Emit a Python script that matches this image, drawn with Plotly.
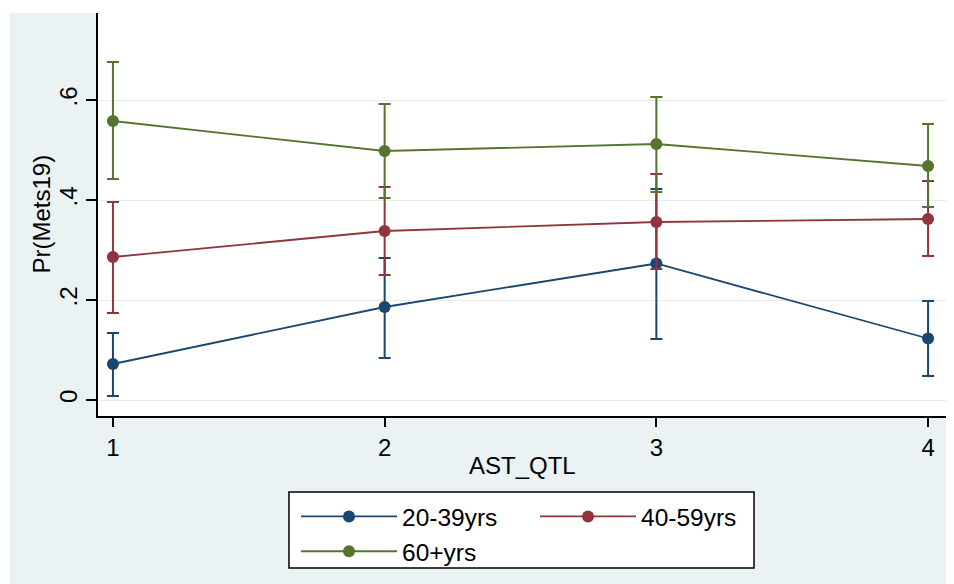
import plotly.graph_objects as go

# ---- data ----
x_vals = [1, 2, 3, 4]
x_ticks = ["1", "2", "3", "4"]
y_tick_vals = [0, 0.2, 0.4, 0.6]
y_tick_text = ["0", ".2", ".4", ".6"]

series_names = ["20-39yrs", "40-59yrs", "60+yrs"]
p20 = [0.072, 0.186, 0.273, 0.123]
lo20 = [0.008, 0.084, 0.122, 0.048]
hi20 = [0.134, 0.284, 0.422, 0.198]

p40 = [0.286, 0.338, 0.356, 0.362]
lo40 = [0.174, 0.250, 0.262, 0.288]
hi40 = [0.396, 0.426, 0.452, 0.438]

p60 = [0.558, 0.498, 0.512, 0.468]
lo60 = [0.442, 0.404, 0.416, 0.386]
hi60 = [0.676, 0.592, 0.606, 0.552]

colors = ["#1a476f", "#90353b", "#55752f"]
groups = ["a", "b", "a"]

FONT = "Liberation Sans, Arial, sans-serif"
FS = 24
BG = "#eaf2f3"

fig = go.Figure()
for name, p, lo, hi, c, g in zip(series_names, [p20, p40, p60], [lo20, lo40, lo60],
                                  [hi20, hi40, hi60], colors, groups):
    plus = [h - v for h, v in zip(hi, p)]
    minus = [v - l for v, l in zip(p, lo)]
    fig.add_trace(go.Scatter(
        x=x_vals, y=p, name=name, mode="lines+markers", legendgroup=g,
        line=dict(color=c, width=1.8),
        marker=dict(color=c, size=12),
        error_y=dict(type="data", symmetric=False, array=plus, arrayminus=minus,
                     color=c, thickness=2, width=6),
    ))

fig.update_layout(
    width=946, height=576,
    margin=dict(l=90, r=8, t=5, b=168),
    paper_bgcolor=BG, plot_bgcolor="white",
    font=dict(family=FONT, size=FS, color="black"),
    showlegend=True,
    legend=dict(orientation="h", traceorder="grouped", x=0.2335, xanchor="left",
                y=-0.1935, yanchor="top", bgcolor="rgba(0,0,0,0)",
                borderwidth=0, itemwidth=96, tracegroupgap=0,
                entrywidth=128, font=dict(family=FONT, size=24.5)),
    xaxis=dict(range=[0.945, 4.066], tickvals=x_vals, ticktext=x_ticks,
               showgrid=False, zeroline=False, showline=True, linecolor="black",
               linewidth=1.5, ticks="outside", ticklen=9, tickwidth=1.5, tickcolor="black",
               automargin=False),
    yaxis=dict(range=[-0.032, 0.774], tickvals=y_tick_vals, ticktext=y_tick_text,
               tickangle=-90, showgrid=True, gridcolor="#e4ecee", gridwidth=1,
               zeroline=False, showline=True, linecolor="black", linewidth=1.5,
               ticks="outside", ticklen=10, tickwidth=1.5, tickcolor="black",
               automargin=False),
    annotations=[
        dict(text="AST_QTL", xref="paper", yref="paper", x=0.5, y=-0.1216,
             xanchor="center", yanchor="middle", showarrow=False,
             font=dict(family=FONT, size=FS)),
        dict(text="Pr(Mets19)", xref="paper", yref="paper", x=-0.0672, y=0.5,
             textangle=-90, xanchor="center", yanchor="middle", showarrow=False,
             font=dict(family=FONT, size=FS)),
    ],
    shapes=[
        dict(type="rect", xref="paper", yref="paper", x0=-0.2, x1=1.1, y0=1.0, y1=1.1,
             fillcolor="white", line=dict(width=0), layer="below"),
        dict(type="rect", xref="paper", yref="paper", x0=-0.2, x1=-0.1038, y0=-0.5, y1=1.1,
             fillcolor="white", line=dict(width=0), layer="below"),
        dict(type="rect", xref="paper", yref="paper", x0=0.2252, x1=0.7736,
             y0=-0.3772, y1=-0.1886, fillcolor="white",
             line=dict(color="black", width=1.5), layer="below"),
    ],
)

fig.write_html("out.html")
